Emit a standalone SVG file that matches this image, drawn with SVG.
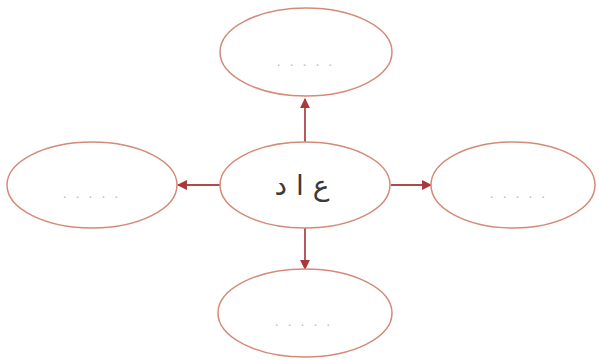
<svg xmlns="http://www.w3.org/2000/svg" width="599" height="360" viewBox="0 0 599 360">
<style>
.node ellipse{fill:#ffffff;stroke:#d58a78;stroke-width:1.5}
.dots{font-family:"Liberation Sans",sans-serif;font-size:14px;fill:#b8bcc4;text-anchor:middle;letter-spacing:9px}
.main{font-family:"DejaVu Sans","Noto Sans",sans-serif;font-size:28px;fill:#3a3a3a;text-anchor:middle}
.conn line{stroke:#b0494a;stroke-width:1.8}
</style>
<defs>
<marker id="ah" viewBox="0 0 10 10" refX="9" refY="5" markerWidth="5.5" markerHeight="5.5" orient="auto">
<path d="M0,0 L10,5 L0,10 z" fill="#a8383c"/>
</marker>
</defs>
<rect width="599" height="360" fill="#ffffff"/>
<g class="conn">
<line x1="305" y1="142" x2="305" y2="99" marker-end="url(#ah)"/>
<line x1="305" y1="228" x2="305" y2="269" marker-end="url(#ah)"/>
<line x1="220" y1="185" x2="178" y2="185" marker-end="url(#ah)"/>
<line x1="391" y1="185" x2="431" y2="185" marker-end="url(#ah)"/>
</g>
<g id="center" class="node">
<ellipse cx="305" cy="185" rx="85" ry="43"/>
<text class="main" x="302" y="195" direction="rtl">ع ا د</text>
</g>
<g id="top" class="node">
<ellipse cx="306" cy="52" rx="86" ry="44"/>
<text class="dots" x="309" y="66">.....</text>
</g>
<g id="left" class="node">
<ellipse cx="92" cy="185" rx="85" ry="43"/>
<text class="dots" x="95" y="198">.....</text>
</g>
<g id="right" class="node">
<ellipse cx="513" cy="185" rx="82" ry="43"/>
<text class="dots" x="522" y="198">.....</text>
</g>
<g id="bottom" class="node">
<ellipse cx="305" cy="313" rx="87" ry="44"/>
<text class="dots" x="307" y="326">.....</text>
</g>
</svg>
